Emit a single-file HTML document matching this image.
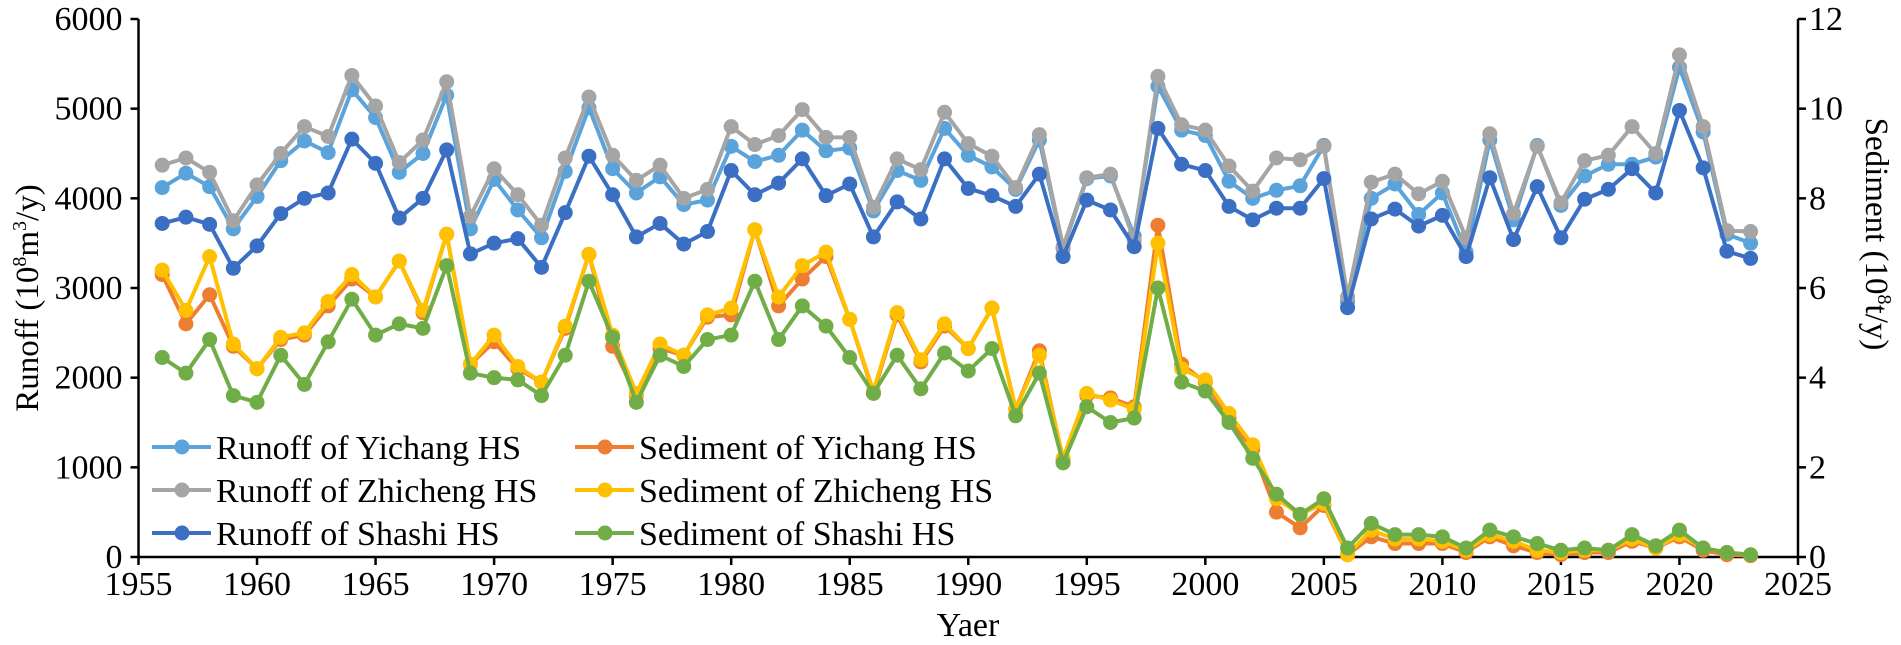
<!DOCTYPE html>
<html><head><meta charset="utf-8"><style>
body{margin:0;background:#fff;}
svg{display:block;font-family:"Liberation Serif",serif;}
</style></head><body>
<svg id="chart" width="1901" height="645" xmlns="http://www.w3.org/2000/svg"></svg>
<script>
const years=[];for(let y=1956;y<=2023;y++)years.push(y);
const runoffYichang=[4120,4280,4130,3660,4020,4420,4640,4510,5210,4900,4290,4500,5150,3660,4210,3870,3560,4300,5010,4330,4060,4240,3930,3980,4580,4410,4480,4760,4530,4560,3860,4310,4200,4780,4480,4350,4100,4650,3440,4220,4250,3580,5250,4760,4700,4190,4000,4090,4140,4590,2850,4000,4160,3820,4060,3400,4650,3760,4590,3920,4250,4380,4380,4460,5460,4740,3600,3500];
const runoffZhicheng=[4370,4450,4290,3750,4150,4500,4800,4690,5370,5030,4400,4650,5300,3800,4330,4040,3700,4450,5130,4480,4200,4370,4000,4100,4800,4600,4700,4990,4680,4680,3900,4440,4320,4960,4610,4470,4120,4710,3460,4230,4270,3530,5360,4820,4760,4360,4080,4450,4430,4580,2900,4180,4270,4050,4190,3560,4720,3830,4580,3950,4420,4480,4800,4500,5600,4800,3640,3630];
const runoffShashi=[3720,3790,3710,3220,3470,3830,4000,4060,4660,4390,3780,4000,4540,3380,3500,3550,3230,3840,4470,4040,3570,3720,3490,3630,4310,4040,4170,4440,4030,4160,3570,3960,3770,4440,4110,4030,3910,4270,3350,3980,3870,3460,4780,4380,4310,3910,3760,3890,3890,4220,2780,3770,3880,3690,3810,3350,4230,3540,4130,3560,3990,4100,4330,4060,4980,4340,3410,3330];
const sedYichang=[6.3,5.2,5.85,4.7,4.2,4.85,4.95,5.6,6.2,5.8,6.6,5.45,7.2,4.3,4.8,4.2,3.9,5.1,6.75,4.7,3.6,4.65,4.5,5.35,5.4,7.3,5.6,6.2,6.7,5.3,3.65,5.4,4.35,5.15,4.65,5.55,3.3,4.6,2.15,3.6,3.55,3.35,7.4,4.3,3.9,3.1,2.4,1.0,0.65,1.15,0.05,0.45,0.3,0.3,0.3,0.1,0.45,0.25,0.1,0.05,0.1,0.1,0.35,0.2,0.45,0.15,0.05,0.03];
const sedZhicheng=[6.4,5.5,6.7,4.75,4.2,4.9,5.0,5.7,6.3,5.8,6.6,5.5,7.2,4.3,4.95,4.25,3.9,5.15,6.75,4.95,3.65,4.75,4.5,5.4,5.55,7.3,5.8,6.5,6.8,5.3,3.7,5.45,4.4,5.2,4.65,5.55,3.3,4.5,2.2,3.65,3.5,3.3,7.0,4.2,3.95,3.2,2.5,1.3,0.95,1.2,0.05,0.6,0.4,0.4,0.35,0.15,0.5,0.35,0.15,0.1,0.15,0.15,0.4,0.2,0.5,0.2,0.1,0.05];
const sedShashi=[4.45,4.1,4.85,3.6,3.45,4.5,3.85,4.8,5.75,4.95,5.2,5.1,6.5,4.1,4.0,3.95,3.6,4.5,6.15,4.9,3.45,4.5,4.25,4.85,4.95,6.15,4.85,5.6,5.15,4.45,3.65,4.5,3.75,4.55,4.15,4.65,3.15,4.1,2.1,3.35,3.0,3.1,6.0,3.9,3.7,3.0,2.2,1.4,0.95,1.3,0.2,0.75,0.5,0.5,0.45,0.2,0.6,0.45,0.3,0.15,0.2,0.15,0.5,0.25,0.6,0.2,0.1,0.05];
const xTicks=[1955,1960,1965,1970,1975,1980,1985,1990,1995,2000,2005,2010,2015,2020,2025];
const yLeftTicks=[0,1000,2000,3000,4000,5000,6000];
const yRightTicks=[0,2,4,6,8,10,12];

const NS="http://www.w3.org/2000/svg";
const svg=document.getElementById('chart');
const X0=138.5,X1=1798,Y0=557,Y1=19;
const xs=v=>X0+(v-1955)/70*(X1-X0);
const yl=v=>Y0-(v/6000)*(Y0-Y1);
const yr=v=>Y0-(v/12)*(Y0-Y1);
function mk(tag,attrs,parent){const e=document.createElementNS(NS,tag);for(const k in attrs)e.setAttribute(k,attrs[k]);(parent||svg).appendChild(e);return e;}

let a=mk('line',{x1:X0,y1:Y1,x2:X0,y2:Y0,stroke:'#000','stroke-width':2.5});


a=mk('line',{x1:X1,y1:Y1,x2:X1,y2:Y0,stroke:'#000','stroke-width':2.5});


a=mk('line',{x1:X0,y1:Y0,x2:X1,y2:Y0,stroke:'#000','stroke-width':2.5});



xTicks.forEach(t=>{
  mk('line',{x1:xs(t),y1:Y0,x2:xs(t),y2:Y0+8,stroke:'#000','stroke-width':2.5});
  const tx=mk('text',{x:xs(t),y:Y0+38,'font-size':34,'text-anchor':'middle'});tx.textContent=t;
  
  
});
yLeftTicks.forEach(t=>{
  mk('line',{x1:X0-8,y1:yl(t),x2:X0,y2:yl(t),stroke:'#000','stroke-width':2.5});
  const tx=mk('text',{x:X0-16,y:yl(t)+11,'font-size':34,'text-anchor':'end'});tx.textContent=t;
  
  
});
yRightTicks.forEach(t=>{
  mk('line',{x1:X1,y1:yr(t),x2:X1+8,y2:yr(t),stroke:'#000','stroke-width':2.5});
  const tx=mk('text',{x:X1+11,y:yr(t)+11,'font-size':34,'text-anchor':'start'});tx.textContent=t;
  
  
});

const series=[
 {d:runoffYichang,s:yl,c:'#5BA3DB',n:'runoff-yichang'},
 {d:runoffZhicheng,s:yl,c:'#A5A5A5',n:'runoff-zhicheng'},
 {d:runoffShashi,s:yl,c:'#3A6FC4',n:'runoff-shashi'},
 {d:sedYichang,s:yr,c:'#ED7D31',n:'sediment-yichang'},
 {d:sedZhicheng,s:yr,c:'#FFC000',n:'sediment-zhicheng'},
 {d:sedShashi,s:yr,c:'#70AD47',n:'sediment-shashi'}
];
series.forEach(sr=>{
  const g=mk('g',{});
  
  
  const pts=sr.d.map((v,i)=>xs(years[i])+','+sr.s(v)).join(' ');
  mk('polyline',{points:pts,fill:'none',stroke:sr.c,'stroke-width':4,'stroke-linejoin':'round'},g);
  sr.d.forEach((v,i)=>{
    const c=mk('circle',{cx:xs(years[i]),cy:sr.s(v),r:7.5,fill:sr.c},g);
    
    
  });
});

const leg=[
 ['Runoff of Yichang HS','#5BA3DB',152,447],['Sediment of Yichang HS','#ED7D31',575,447],
 ['Runoff of Zhicheng HS','#A5A5A5',152,490],['Sediment of Zhicheng HS','#FFC000',575,490],
 ['Runoff of Shashi HS','#3A6FC4',152,533],['Sediment of Shashi HS','#70AD47',575,533]
];
leg.forEach(l=>{
  const g=mk('g',{});
  
  
  mk('line',{x1:l[2],y1:l[3],x2:l[2]+59,y2:l[3],stroke:l[1],'stroke-width':4},g);
  mk('circle',{cx:l[2]+30,cy:l[3],r:7.5,fill:l[1]},g);
  const t=mk('text',{x:l[2]+64,y:l[3]+12,'font-size':34},g);t.textContent=l[0];
});

let t=mk('text',{x:0,y:0,'font-size':33,'text-anchor':'middle',transform:'translate(38,298) rotate(-90)'});
t.innerHTML='Runoff (10<tspan dy="-12" font-size="20">8</tspan><tspan dy="12">m</tspan><tspan dy="-12" font-size="20">3</tspan><tspan dy="12">/y)</tspan>';


t=mk('text',{x:0,y:0,'font-size':33,'text-anchor':'middle',transform:'translate(1866,234) rotate(90)'});
t.innerHTML='Sediment  (10<tspan dy="-12" font-size="20">8</tspan><tspan dy="12">t/y)</tspan>';


t=mk('text',{x:968,y:636,'font-size':34,'text-anchor':'middle'});t.textContent='Yaer';


</script>
</body></html>
